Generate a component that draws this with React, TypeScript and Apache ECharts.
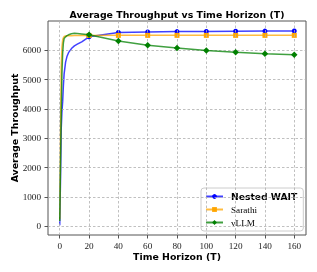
import React, { useEffect, useRef } from 'react';
import * as echarts from 'echarts';

const T_VALUES = [0, 0.5, 1, 1.5, 2, 2.5, 3, 4, 5, 6, 8, 10, 12, 15, 20, 40, 60, 80, 100, 120, 140, 160];
const NESTED_WAIT = [35, 1500, 3300, 3900, 4250, 4800, 5200, 5600, 5800, 5920, 6060, 6150, 6210, 6290, 6460, 6610, 6625, 6640, 6645, 6650, 6655, 6660];
const SARATHI = [250, 3000, 5400, 6100, 6350, 6430, 6470, 6490, 6495, 6500, 6500, 6505, 6505, 6505, 6505, 6510, 6510, 6510, 6510, 6510, 6510, 6510];
const VLLM = [180, 2000, 3800, 5200, 5900, 6250, 6400, 6460, 6500, 6530, 6565, 6580, 6575, 6560, 6530, 6320, 6175, 6080, 5995, 5935, 5885, 5845];

const SERIES_NAMES = ['Nested WAIT', 'Sarathi', 'vLLM'];
const X_TICKS = [0, 20, 40, 60, 80, 100, 120, 140, 160];
const Y_TICKS = [0, 1000, 2000, 3000, 4000, 5000, 6000];
const TITLE = 'Average Throughput vs Time Horizon (T)';
const X_LABEL = 'Time Horizon (T)';
const Y_LABEL = 'Average Throughput';

const withMarkers = (vals: number[]) =>
  T_VALUES.map((t, i) =>
    t >= 20 && t % 20 === 0 ? { value: [t, vals[i]] } : { value: [t, vals[i]], symbol: 'none' }
  );

export default function App() {
  const ref = useRef<HTMLDivElement>(null);
  useEffect(() => {
    const chart = echarts.init(ref.current!, null, { renderer: 'svg' });
    const sans = '"DejaVu Sans"';
    const serif = '"Liberation Serif"';
    const mkSeries = (name: string, vals: number[], color: string, symbol: string, size: number, z: number) => ({
      name,
      type: 'line',
      data: withMarkers(vals),
      symbol,
      symbolSize: size,
      showSymbol: true,
      color,
      itemStyle: { color, opacity: 1 },
      lineStyle: { color, width: 1.5, opacity: 0.75 },
      z,
      silent: true,
    });
    const option: any = {
      animation: false,
      grid: { left: 48, top: 21, right: 11, bottom: 37, show: true, borderColor: '#555', borderWidth: 1, backgroundColor: 'transparent' },
      xAxis: {
        type: 'value', min: -8, max: 168,
        axisLine: { show: false, onZero: false },
        axisTick: { show: true, inside: false, length: 3.5, lineStyle: { color: '#555', width: 1 }, customValues: X_TICKS },
        axisLabel: { customValues: X_TICKS, fontFamily: serif, fontSize: 9.2, color: '#222', margin: 6, formatter: (v: number) => String(v) },
        splitLine: { show: false },
      },
      yAxis: {
        type: 'value', min: -297, max: 7000,
        axisLine: { show: false, onZero: false },
        axisTick: { show: true, inside: false, length: 3.5, lineStyle: { color: '#555', width: 1 }, customValues: Y_TICKS },
        axisLabel: { customValues: Y_TICKS, fontFamily: serif, fontSize: 9.2, color: '#222', margin: 7, formatter: (v: number) => String(v) },
        splitLine: { show: false },
      },
      legend: {
        orient: 'vertical', left: 201, top: 188,
        itemWidth: 17, itemHeight: 6, itemGap: 2,
        padding: [3, 6, 3, 4],
        borderColor: '#ccc', borderWidth: 1, borderRadius: 3,
        backgroundColor: 'rgba(255,255,255,0.8)',
        textStyle: { fontFamily: serif, fontSize: 9.2, color: '#000', lineHeight: 11, padding: [0, 0, 0, 3] },
        data: [
          { name: SERIES_NAMES[0], textStyle: { fontFamily: sans, fontWeight: 'bold', fontSize: 9.2, lineHeight: 11 } },
          { name: SERIES_NAMES[1] },
          { name: SERIES_NAMES[2] },
        ],
      },
      series: [
        {
          type: 'line', data: [], z: 1, silent: true,
          markLine: {
            silent: true, symbol: ['none', 'none'], label: { show: false }, animation: false,
            lineStyle: { color: '#b0b0b0', width: 0.8, type: [2.5, 2] },
            emphasis: { disabled: true },
            data: [...X_TICKS.map((x) => ({ xAxis: x })), ...Y_TICKS.map((y) => ({ yAxis: y }))],
          },
        },
        mkSeries(SERIES_NAMES[0], NESTED_WAIT, '#0000ff', 'circle', 5, 3),
        mkSeries(SERIES_NAMES[1], SARATHI, '#ffa500', 'rect', 5, 4),
        mkSeries(SERIES_NAMES[2], VLLM, '#008000', 'diamond', 6.5, 5),
      ],
      graphic: [
        { type: 'text', x: 177, y: 14, style: { text: TITLE, font: `bold 9.4px ${sans}`, fill: '#000', align: 'center', verticalAlign: 'middle', textAlign: 'center', textVerticalAlign: 'middle' } },
        { type: 'text', x: 177, y: 256, style: { text: X_LABEL, font: `bold 9.4px ${sans}`, fill: '#000', align: 'center', verticalAlign: 'middle', textAlign: 'center', textVerticalAlign: 'middle' } },
        { type: 'text', x: 14, y: 128, rotation: Math.PI / 2, style: { text: Y_LABEL, font: `bold 9.4px ${sans}`, fill: '#000', align: 'center', verticalAlign: 'middle', textAlign: 'center', textVerticalAlign: 'middle' } },
      ],
    };
    chart.setOption(option);
    return () => chart.dispose();
  }, []);
  return <div ref={ref} style={{ position: 'fixed', left: 0, top: 0, width: 317, height: 272 }} />;
}
